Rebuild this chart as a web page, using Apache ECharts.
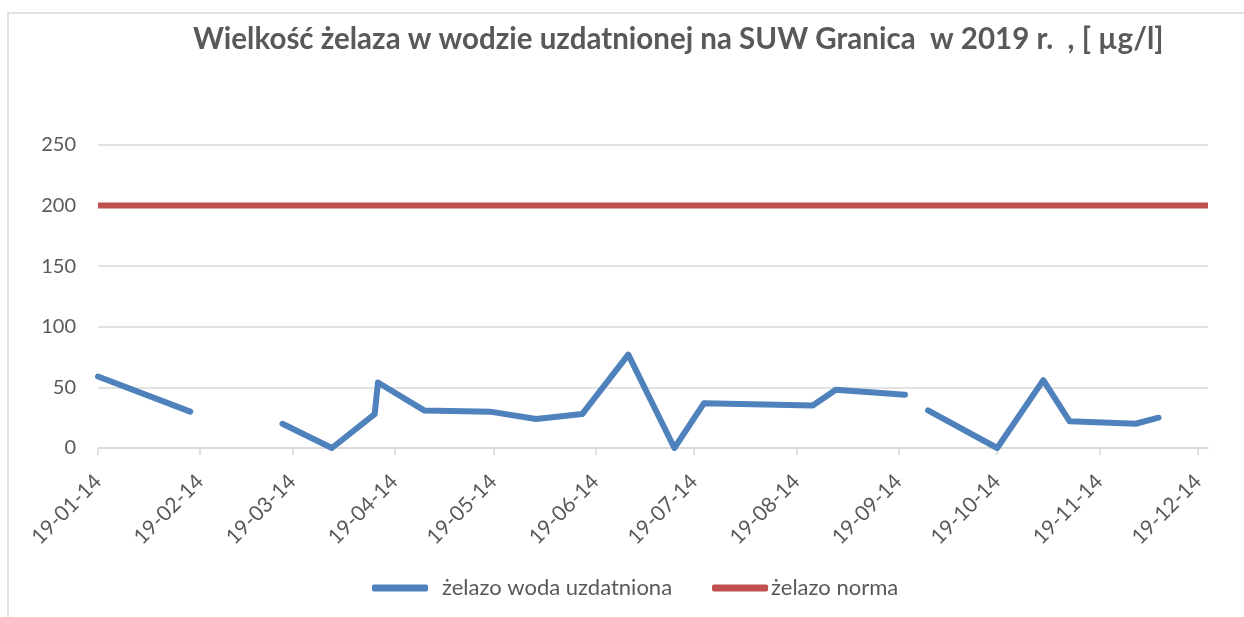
<!DOCTYPE html>
<html>
<head>
<meta charset="utf-8">
<script src="https://cdn.jsdelivr.net/npm/echarts@6/dist/echarts.min.js"></script>
<style>
	html, body { margin: 0; padding: 0; background: #fff; }
	#chart { width: 1244px; height: 617px; }
</style>
</head>
<body>
<div id="chart"></div>
<script>
// dane: daty pomiarów i wartości (null = brak pomiaru, przerwa w linii)
var daty = ['2019-01-14', '2019-02-11', '2019-02-25', '2019-03-11', '2019-03-26', '2019-04-08', '2019-04-09',
	'2019-04-23', '2019-05-13', '2019-05-27', '2019-06-10', '2019-06-24', '2019-07-08', '2019-07-17',
	'2019-08-19', '2019-08-26', '2019-09-16', '2019-09-19', '2019-09-23', '2019-10-14', '2019-10-28',
	'2019-11-05', '2019-11-25', '2019-12-02'];
var zelazo = [59, 30, null, 20, 0, 28, 54,
	31, 30, 24, 28, 77, 0, 37,
	35, 48, 44, null, 31, 0, 56,
	22, 20, 25];
var normaDaty = ['2019-01-14', '2019-12-17'];
var norma = [200, 200];
var etykietyOsi = ['2019-01-14', '2019-02-14', '2019-03-14', '2019-04-14', '2019-05-14', '2019-06-14',
	'2019-07-14', '2019-08-14', '2019-09-14', '2019-10-14', '2019-11-14', '2019-12-14'];

// data -> timestamp (czas lokalny)
function ts(s) {
	var p = s.split('-');
	return new Date(+p[0], +p[1] - 1, +p[2]).getTime();
}
function pad(n) { return (n < 10 ? '0' : '') + n; }

var chart = echarts.init(document.getElementById('chart'));
var szary = '#595959';
var font = 'Lato, "Open Sans", sans-serif';

var option = {
	backgroundColor: '#fff',
	animation: false,
	color: ['#4f81bd', '#c0504d'],
	title: {
		text: 'Wielkość żelaza w wodzie uzdatnionej na SUW Granica  w 2019 r.  , [ µg/l]',
		left: 188,
		top: 19,
		textStyle: {
			color: szary,
			fontFamily: font,
			fontWeight: 'bold',
			fontSize: 29.5
		}
	},
	graphic: [{
		type: 'rect',
		shape: { x: 8, y: 13, width: 1300, height: 700 },
		style: { fill: 'none', stroke: '#d9d9d9', lineWidth: 1.5 },
		silent: true
	}],
	legend: {
		left: 367,
		top: 572,
		itemWidth: 56,
		itemHeight: 7,
		itemGap: 40,
		icon: 'roundRect',
		textStyle: { color: szary, fontFamily: font, fontSize: 22 },
		data: [
			{ name: 'żelazo woda uzdatniona', textStyle: { padding: [0, 0, 0, 9] } },
			{ name: 'żelazo norma', textStyle: { padding: [0, 0, 0, -2] } }
		]
	},
	grid: {
		left: 98,
		right: 36,
		top: 145,
		bottom: 169,
		containLabel: false,
		outerBoundsMode: 'none'
	},
	xAxis: {
		type: 'value',
		min: ts('2019-01-14'),
		max: ts('2019-12-17'),
		axisLine: { show: true, lineStyle: { color: '#d9d9d9', width: 1.5 } },
		axisTick: {
			show: true,
			length: 7,
			lineStyle: { color: '#d9d9d9', width: 1.5 },
			customValues: etykietyOsi.map(ts)
		},
		splitLine: { show: false },
		axisLabel: {
			rotate: 45,
			margin: 30,
			color: szary,
			fontFamily: font,
			fontSize: 21,
			customValues: etykietyOsi.map(ts),
			formatter: function (v) {
				var d = new Date(v);
				return pad(d.getFullYear() % 100) + '-' + pad(d.getMonth() + 1) + '-' + pad(d.getDate());
			}
		}
	},
	yAxis: {
		type: 'value',
		min: 0,
		max: 250,
		interval: 50,
		axisLine: { show: false },
		axisTick: { show: false },
		axisLabel: { color: szary, fontFamily: font, fontSize: 20, margin: 22 },
		splitLine: { lineStyle: { color: '#d9d9d9', width: 1.5 } }
	},
	series: [{
		name: 'żelazo woda uzdatniona',
		type: 'line',
		showSymbol: false,
		connectNulls: false,
		lineStyle: { width: 6, cap: 'round', join: 'round' },
		data: daty.map(function (d, i) { return [ts(d), zelazo[i]]; })
	}, {
		name: 'żelazo norma',
		type: 'line',
		showSymbol: false,
		lineStyle: { width: 6 },
		data: normaDaty.map(function (d, i) { return [ts(d), norma[i]]; })
	}]
};

chart.setOption(option);
</script>
</body>
</html>
